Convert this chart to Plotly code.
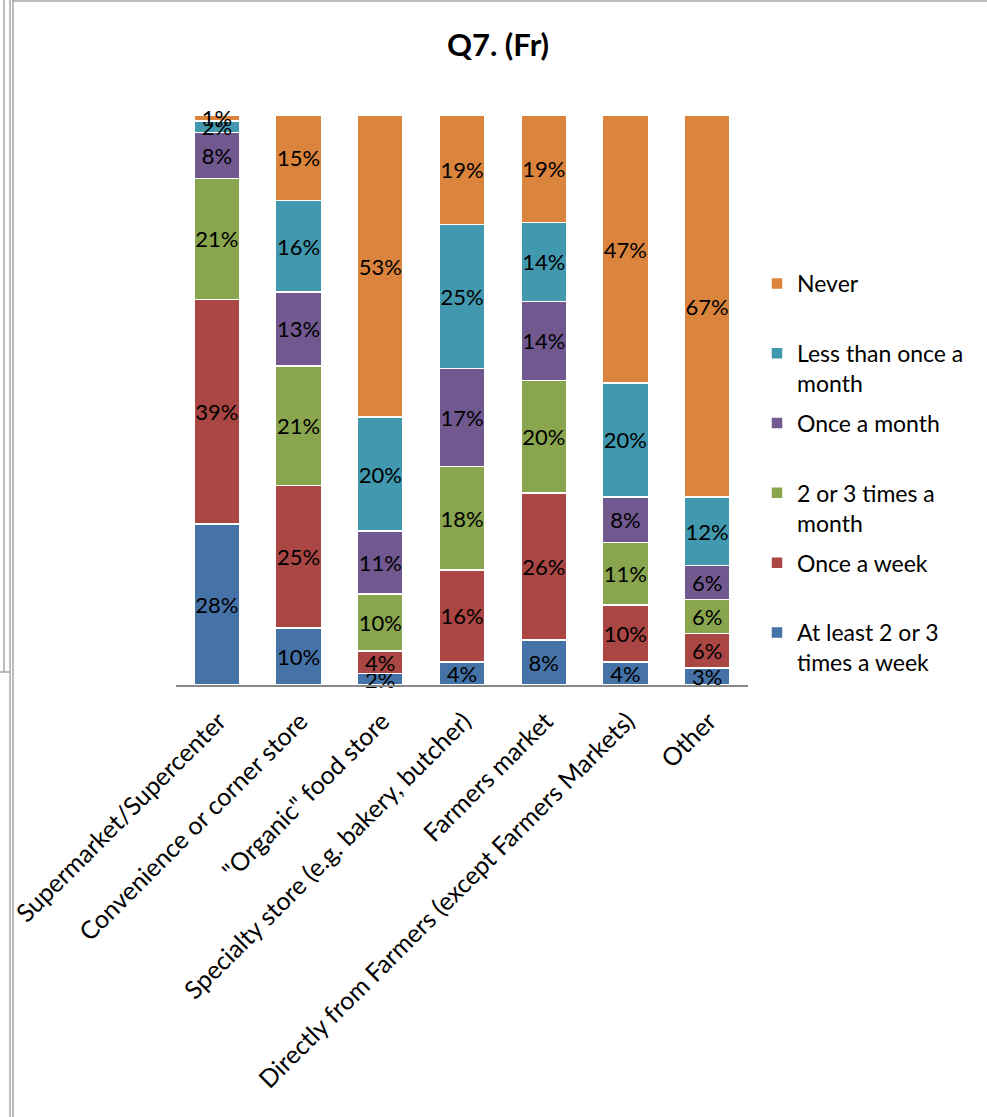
import plotly.graph_objects as go

# Shopping outlets (x-axis categories)
categories = [
    "Supermarket/Supercenter",
    "Convenience or corner store",
    "\"Organic\" food store",
    "Specialty store (e.g. bakery, butcher)",
    "Farmers market",
    "Directly from Farmers (except Farmers Markets)",
    "Other",
]

# Share of respondents (%) by purchase frequency, bottom to top of each stack
at_least_2_3_week = [28, 10, 2, 4, 8, 4, 3]
once_a_week = [39, 25, 4, 16, 26, 10, 6]
two_three_month = [21, 21, 10, 18, 20, 11, 6]
once_a_month = [8, 13, 11, 17, 14, 8, 6]
less_than_month = [2, 16, 20, 25, 14, 20, 12]
never = [1, 15, 53, 19, 19, 47, 67]

series = [
    ("At least 2 or 3<br>times a week", at_least_2_3_week, "#4572A7"),
    ("Once a week<br> ", once_a_week, "#AA4643"),
    ("2 or 3 times a<br>month", two_three_month, "#89A54E"),
    ("Once a month<br> ", once_a_month, "#71588F"),
    ("Less than once a<br>month", less_than_month, "#4198AF"),
    ("Never<br> ", never, "#DB843D"),
]

FONT = "Lato, 'Open Sans', sans-serif"

fig = go.Figure()
n = len(series)
for i, (name, vals, color) in enumerate(series):
    fig.add_trace(go.Bar(
        x=categories,
        y=vals,
        name=name,
        legendgroup=name,
        legendrank=(n - i) * 10,   # top of the stack listed first
        marker=dict(color=color, line=dict(color="white", width=1.5)),
        text=[f"{v}%" for v in vals],
        textposition="inside",
        insidetextanchor="middle",
        textangle=0,
        constraintext="none",
        textfont=dict(family=FONT, size=22, color="black"),
        cliponaxis=False,
        width=0.56,
    ))

# plot-area edges in pixels, used to place the page frame lines
L, R, T, B = 176, 748, 115, 685
W, H = 987, 1117


def px_x(p):
    return (p - L) / (R - L)


def px_y(p):
    return (B - p) / (B - T)


frame = dict(color="#A6A6A6", width=1.5)
shapes = [
    dict(type="line", xref="paper", yref="paper", x0=px_x(12), x1=px_x(987),
         y0=px_y(1), y1=px_y(1), line=frame),
    dict(type="line", xref="paper", yref="paper", x0=px_x(4), x1=px_x(4),
         y0=px_y(0), y1=px_y(672), line=frame),
    dict(type="line", xref="paper", yref="paper", x0=px_x(0), x1=px_x(10),
         y0=px_y(672), y1=px_y(672), line=frame),
    dict(type="line", xref="paper", yref="paper", x0=px_x(10), x1=px_x(10),
         y0=px_y(0), y1=px_y(1117), line=frame),
    dict(type="line", xref="paper", yref="paper", x0=px_x(13), x1=px_x(13),
         y0=px_y(0), y1=px_y(1117), line=frame),
]

fig.update_layout(
    width=W,
    height=H,
    barmode="stack",
    barnorm="percent",
    bargap=0.44,
    plot_bgcolor="white",
    paper_bgcolor="white",
    margin=dict(l=L, r=W - R, t=T, b=H - B, autoexpand=False),
    title=dict(
        text="<b>Q7. (Fr)</b>",
        x=(498) / W,
        xanchor="center",
        y=1 - 45 / H,
        yanchor="middle",
        font=dict(family=FONT, size=31, color="black"),
    ),
    xaxis=dict(
        tickangle=-45,
        tickfont=dict(family=FONT, size=25, color="black"),
        ticklabelstandoff=10,
        ticklabelshift=2,
        showline=True,
        linecolor="#888888",
        linewidth=1.5,
        ticks="",
        showgrid=False,
        automargin=False,
    ),
    yaxis=dict(
        range=[0, 100.02],
        visible=False,
        showgrid=False,
        zeroline=False,
        automargin=False,
    ),
    legend=dict(
        traceorder="grouped",
        tracegroupgap=7,
        x=px_x(757),
        xanchor="left",
        y=px_y(262),
        yanchor="top",
        valign="top",
        font=dict(family=FONT, size=23, color="black"),
        itemwidth=30,
        bgcolor="rgba(0,0,0,0)",
    ),
    shapes=shapes,
)

fig.write_html("out.html")
